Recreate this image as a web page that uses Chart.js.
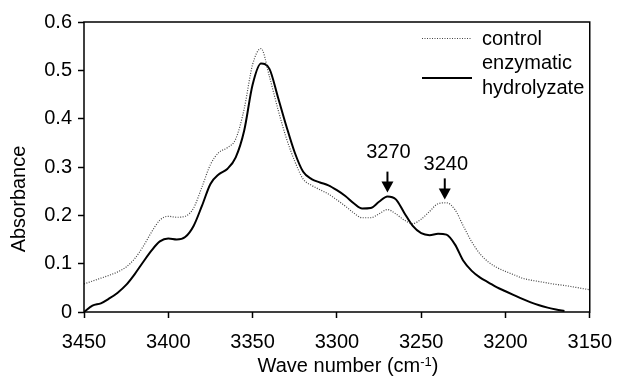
<!DOCTYPE html>
<html>
<head>
<meta charset="utf-8">
<script src="https://cdn.jsdelivr.net/npm/chart.js@4.4.0/dist/chart.umd.min.js"></script>
<style>
  html, body { margin: 0; padding: 0; background: #fff; }
</style>
</head>
<body>
<canvas id="spectrum" width="624" height="384"></canvas>
<script>
// wave numbers (cm-1), 5 cm-1 step
var waveNumbers = [
  3450, 3445, 3440, 3435, 3430, 3425, 3420, 3415, 3410, 3405,
  3400, 3395, 3390, 3385, 3380, 3375, 3370, 3365, 3360, 3355,
  3350, 3345, 3340, 3335, 3330, 3325, 3320, 3315, 3310, 3305,
  3300, 3295, 3290, 3285, 3280, 3275, 3270, 3265, 3260, 3255,
  3250, 3245, 3240, 3235, 3230, 3225, 3220, 3215, 3210, 3205,
  3200, 3195, 3190, 3185, 3180, 3175, 3170, 3165, 3160, 3155,
  3150
];

var controlAbs = [
  0.058, 0.064, 0.070, 0.076, 0.083, 0.093, 0.110, 0.135, 0.165, 0.190,
  0.198, 0.196, 0.198, 0.215, 0.259, 0.305, 0.330, 0.340, 0.358, 0.420,
  0.512, 0.545, 0.487, 0.420, 0.360, 0.312, 0.275, 0.262, 0.253, 0.244,
  0.232, 0.219, 0.205, 0.195, 0.195, 0.203, 0.212, 0.203, 0.190, 0.183,
  0.192, 0.208, 0.224, 0.226, 0.212, 0.178, 0.145, 0.120, 0.103, 0.092,
  0.084, 0.077, 0.070, 0.066, 0.063, 0.060, 0.057, 0.055, 0.052, 0.049,
  0.046
];

var hydrolyzateAbs = [
  0.000, 0.013, 0.018, 0.028, 0.040, 0.056, 0.078, 0.103, 0.127, 0.146,
  0.152, 0.150, 0.155, 0.178, 0.220, 0.265, 0.285, 0.296, 0.320, 0.375,
  0.470, 0.514, 0.503, 0.445, 0.385, 0.330, 0.290, 0.275, 0.268, 0.262,
  0.252, 0.240, 0.225, 0.214, 0.215, 0.228, 0.239, 0.233, 0.205, 0.178,
  0.163, 0.159, 0.162, 0.160, 0.140, 0.106, 0.085, 0.071, 0.061, 0.051,
  0.043, 0.035, 0.027, 0.020, 0.014, 0.009, 0.005, 0.002, null, null,
  null
];

var xTicks = [3450, 3400, 3350, 3300, 3250, 3200, 3150];
var yTicks = [0, 0.1, 0.2, 0.3, 0.4, 0.5, 0.6];

// peak arrows: where they point and what they say
var peakWaves = [3270, 3236];
var peakTips = [0.247, 0.233];
var peakLabels = ['3270', '3240'];

var seriesNames = ['control', 'enzymatic hydrolyzate'];

var FONT = "'Liberation Sans', Arial, sans-serif";

function pairs(ys) {
  return waveNumbers.map(function (w, i) { return { x: w, y: ys[i] }; });
}

var extras = {
  id: 'extras',
  afterDraw: function (chart) {
    var ctx = chart.ctx, a = chart.chartArea;
    var xs = chart.scales.x, ys = chart.scales.y;
    ctx.save();

    // frame
    ctx.strokeStyle = '#000';
    ctx.lineWidth = 1.5;
    ctx.strokeRect(a.left, a.top, a.right - a.left, a.bottom - a.top);

    ctx.fillStyle = '#000';
    ctx.font = '20px ' + FONT;

    // arrows
    var gaps = [14, 8];
    peakWaves.forEach(function (w, i) {
      var x = xs.getPixelForValue(w);
      var tip = ys.getPixelForValue(peakTips[i]);
      ctx.lineWidth = 2;
      ctx.beginPath();
      ctx.moveTo(x, tip - 21);
      ctx.lineTo(x, tip - 9);
      ctx.stroke();
      ctx.beginPath();
      ctx.moveTo(x - 6, tip - 11);
      ctx.lineTo(x + 6, tip - 11);
      ctx.lineTo(x, tip);
      ctx.closePath();
      ctx.fill();
      ctx.textAlign = 'center';
      ctx.textBaseline = 'alphabetic';
      ctx.fillText(peakLabels[i], x + 1, tip - 21 - gaps[i]);
    });

    // legend
    ctx.lineWidth = 1.2;
    ctx.strokeStyle = '#444';
    ctx.setLineDash([1, 1.5]);
    ctx.beginPath();
    ctx.moveTo(422, 38.5);
    ctx.lineTo(472, 38.5);
    ctx.stroke();
    ctx.setLineDash([]);
    ctx.strokeStyle = '#000';
    ctx.lineWidth = 2;
    ctx.beginPath();
    ctx.moveTo(422, 78);
    ctx.lineTo(472, 78);
    ctx.stroke();
    ctx.textAlign = 'left';
    ctx.fillText(seriesNames[0], 482, 45);
    var parts = seriesNames[1].split(' ');
    ctx.fillText(parts[0], 482, 69);
    ctx.fillText(parts[1], 482, 94);

    // y title
    ctx.save();
    ctx.translate(19, 199);
    ctx.rotate(-Math.PI / 2);
    ctx.textAlign = 'center';
    ctx.textBaseline = 'middle';
    ctx.fillText('Absorbance', 0, 0);
    ctx.restore();

    // x title with superscript
    var main = 'Wave number (cm', sup = '-1', close = ')';
    ctx.font = '20px ' + FONT;
    var w1 = ctx.measureText(main).width, w3 = ctx.measureText(close).width;
    ctx.font = '13px ' + FONT;
    var w2 = ctx.measureText(sup).width;
    var x0 = 348 - (w1 + w2 + w3) / 2;
    ctx.textAlign = 'left';
    ctx.font = '20px ' + FONT;
    ctx.fillText(main, x0, 372);
    ctx.font = '13px ' + FONT;
    ctx.fillText(sup, x0 + w1, 366);
    ctx.font = '20px ' + FONT;
    ctx.fillText(close, x0 + w1 + w2, 372);

    ctx.restore();
  }
};

new Chart(document.getElementById('spectrum'), {
  type: 'line',
  data: {
    datasets: [
      {
        label: seriesNames[0],
        data: pairs(controlAbs),
        borderColor: '#444',
        borderWidth: 1.2,
        borderDash: [1, 1.5],
        pointRadius: 0,
        cubicInterpolationMode: 'monotone',
        fill: false
      },
      {
        label: seriesNames[1],
        data: pairs(hydrolyzateAbs),
        borderColor: '#000',
        borderWidth: 2,
        pointRadius: 0,
        cubicInterpolationMode: 'monotone',
        spanGaps: false,
        fill: false
      }
    ]
  },
  options: {
    responsive: false,
    devicePixelRatio: 1,
    animation: false,
    layout: { padding: { left: 0, top: 22, right: 28, bottom: 0 } },
    plugins: {
      legend: { display: false },
      tooltip: { enabled: false }
    },
    scales: {
      x: {
        type: 'linear',
        reverse: true,
        min: 3150,
        max: 3450,
        afterBuildTicks: function (s) { s.ticks = xTicks.map(function (v) { return { value: v }; }); },
        afterFit: function (s) { s.height = 72; },
        border: { display: false },
        grid: { drawOnChartArea: false, drawTicks: true, tickLength: 6, tickColor: '#000', tickWidth: 1.5 },
        ticks: {
          color: '#000',
          padding: 12,
          maxRotation: 0,
          font: { family: FONT, size: 20 },
          callback: function (v) { return String(v); }
        }
      },
      y: {
        min: 0,
        max: 0.6,
        afterBuildTicks: function (s) { s.ticks = yTicks.map(function (v) { return { value: v }; }); },
        afterFit: function (s) { s.width = 84; },
        border: { display: false },
        grid: { drawOnChartArea: false, drawTicks: true, tickLength: 6, tickColor: '#000', tickWidth: 1.5 },
        ticks: {
          color: '#000',
          padding: 6,
          font: { family: FONT, size: 20 },
          callback: function (v) { return v === 0 ? '0' : v.toFixed(1); }
        }
      }
    }
  },
  plugins: [extras]
});
</script>
</body>
</html>
